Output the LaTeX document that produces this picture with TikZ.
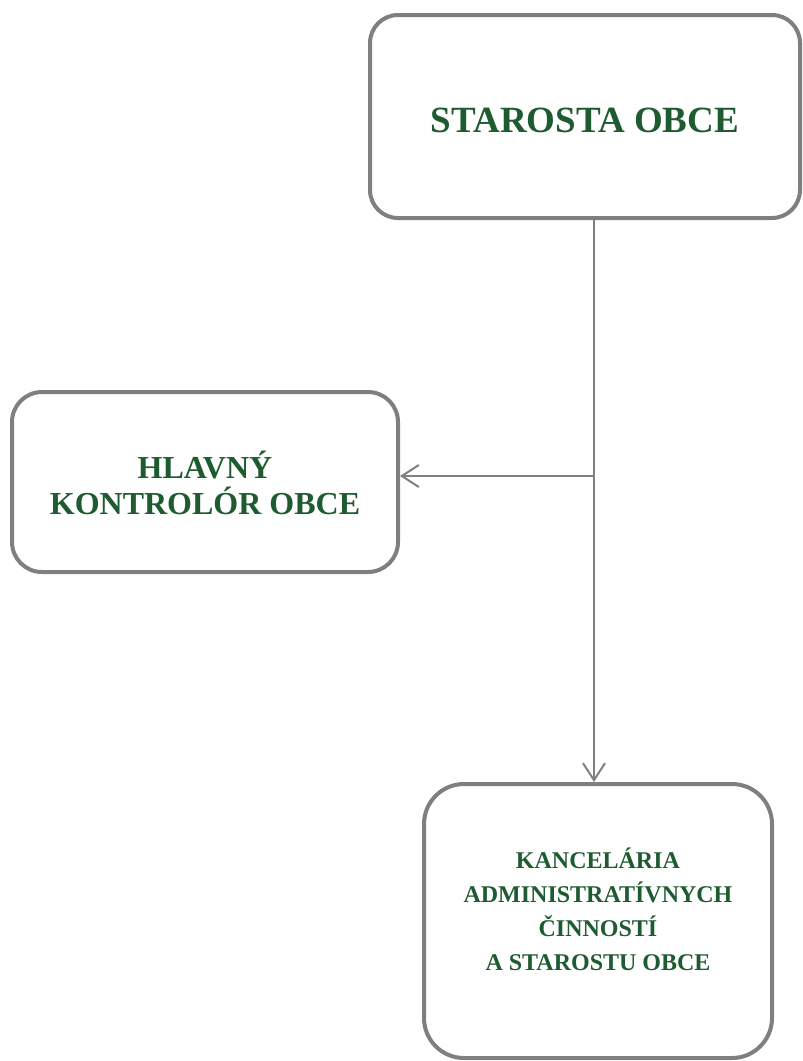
\documentclass[tikz,border=0pt]{standalone}
\usepackage{fontspec}
\setmainfont{Liberation Serif}
\usetikzlibrary{arrows.meta}
\definecolor{boxgray}{HTML}{7F7F7F}
\definecolor{linegray}{HTML}{808080}
\definecolor{txtgreen}{HTML}{1E5B30}
\tikzset{
  orgbox/.style={draw=boxgray, line width=4pt, rounded corners=#1, fill=white, inner sep=0pt},
  orgtext/.style={text=txtgreen, font=\bfseries, align=center},
  conn/.style={draw=linegray, line width=2pt, -{Straight Barb[length=17pt,width=22pt,line width=2pt]}}
}
\begin{document}
\begin{tikzpicture}[x=1pt,y=-1pt]
\useasboundingbox (0,0) rectangle (803,1061);
\node[orgbox=28pt, minimum width=430pt, minimum height=203pt,
  label={[orgtext, font=\fontsize{37}{40}\selectfont\bfseries, yshift=-4pt]center:STAROSTA OBCE}] (top) at (585,116.5) {};
\node[orgbox=30pt, minimum width=386pt, minimum height=180pt,
  label={[orgtext, font=\fontsize{32}{36}\selectfont\bfseries, yshift=-1pt]center:HLAVNÝ\\KONTROLÓR OBCE}] (left) at (205,482) {};
\node[orgbox=40pt, minimum width=348pt, minimum height=274pt,
  label={[orgtext, font=\fontsize{24}{34}\selectfont\bfseries, yshift=12pt]center:KANCELÁRIA\\ADMINISTRATÍVNYCH\\ČINNOSTÍ\\A STAROSTU OBCE}] (bottom) at (598,921) {};
\coordinate (j) at (594,476);
\draw[conn] (top.south -| j) -- (bottom.north -| j);
\draw[conn] (j) -- (j -| left.east);
\end{tikzpicture}
\end{document}
